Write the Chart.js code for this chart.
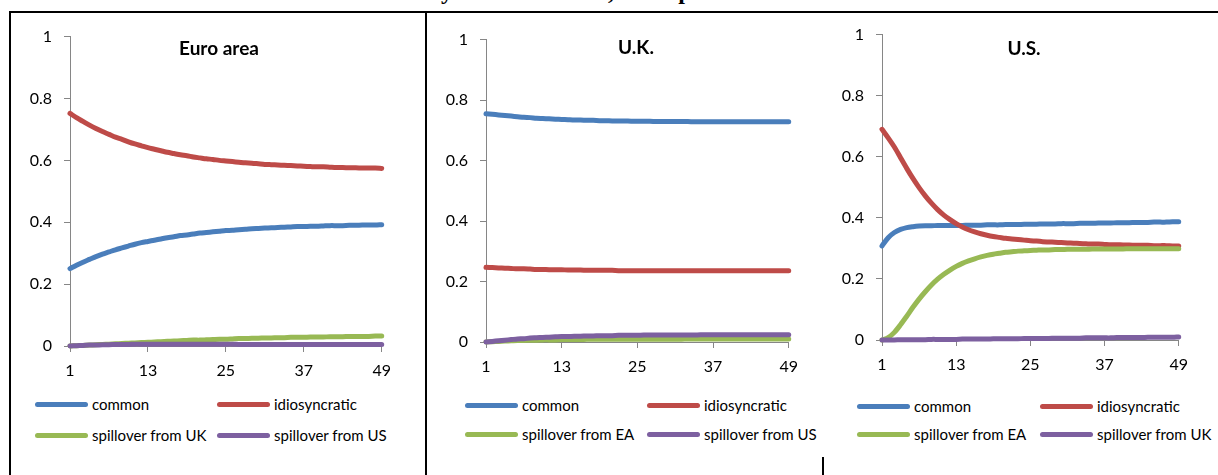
<!DOCTYPE html>
<html>
<head>
<meta charset="utf-8">
<script src="https://cdn.jsdelivr.net/npm/chart.js@4/dist/chart.umd.min.js"></script>
<style>
  html, body { margin: 0; padding: 0; background: #fff; }
  body { width: 1218px; height: 475px; position: relative; overflow: hidden; font-family: Lato, "Open Sans", sans-serif; }
  .abs { position: absolute; }
  .rule { position: absolute; background: #000; }
  .caption { position: absolute; left: 28px; top: -21px; font: bold 24px/24px "Liberation Serif", "DejaVu Serif", serif; letter-spacing: 0.6px; white-space: nowrap; color: #000; }
  .ptitle { position: absolute; width: 200px; text-align: center; font: bold 19px/22px Lato, sans-serif; color: #000; }
  .lg-line { position: absolute; width: 53px; height: 5px; border-radius: 3px; }
  .lg-text { position: absolute; font: 15px/16px Lato, sans-serif; color: #000; white-space: nowrap; }
</style>
</head>
<body>
<div class="caption">Contribution of the common and idiosyncratic shocks, and spillovers from the other two economies</div>
<div class="rule" style="left:9px;top:11px;width:1209px;height:2px"></div>
<div class="rule" style="left:9px;top:11px;width:2px;height:464px"></div>
<div class="rule" style="left:425px;top:11px;width:2px;height:464px"></div>
<div class="rule" style="left:822px;top:457px;width:2px;height:18px"></div>

<canvas id="chartEA" class="abs"></canvas>
<canvas id="chartUK" class="abs"></canvas>
<canvas id="chartUS" class="abs"></canvas>

<script>
'use strict';

// horizon (quarters)
const periods = [1, 2, 3, 4, 5, 6, 7, 8, 9, 10, 11, 12, 13, 14, 15, 16, 17, 18, 19, 20,
  21, 22, 23, 24, 25, 26, 27, 28, 29, 30, 31, 32, 33, 34, 35, 36, 37, 38, 39, 40,
  41, 42, 43, 44, 45, 46, 47, 48, 49];
const yTicks = [0, 0.2, 0.4, 0.6, 0.8, 1];
const xTicks = [1, 13, 25, 37, 49];

// Euro area
const eaCommon = [0.250, 0.261, 0.271, 0.280, 0.289, 0.297, 0.304, 0.311, 0.317, 0.323,
  0.329, 0.334, 0.338, 0.342, 0.346, 0.350, 0.353, 0.357, 0.359, 0.362,
  0.365, 0.367, 0.369, 0.371, 0.373, 0.374, 0.376, 0.377, 0.379, 0.380,
  0.381, 0.382, 0.383, 0.384, 0.385, 0.386, 0.386, 0.387, 0.387, 0.388,
  0.389, 0.389, 0.389, 0.390, 0.390, 0.391, 0.391, 0.391, 0.392];
const eaIdio = [0.752, 0.738, 0.726, 0.714, 0.703, 0.693, 0.684, 0.675, 0.668, 0.660,
  0.653, 0.647, 0.641, 0.636, 0.631, 0.626, 0.622, 0.618, 0.615, 0.611,
  0.608, 0.605, 0.603, 0.600, 0.598, 0.596, 0.594, 0.592, 0.591, 0.589,
  0.587, 0.586, 0.585, 0.584, 0.583, 0.582, 0.581, 0.580, 0.579, 0.579,
  0.578, 0.577, 0.577, 0.576, 0.576, 0.575, 0.575, 0.575, 0.574];
const eaFromUK = [0.000, 0.001, 0.002, 0.003, 0.004, 0.005, 0.006, 0.007, 0.008, 0.009,
  0.010, 0.011, 0.012, 0.013, 0.014, 0.015, 0.016, 0.017, 0.018, 0.019,
  0.019, 0.020, 0.021, 0.022, 0.022, 0.023, 0.024, 0.024, 0.025, 0.025,
  0.026, 0.026, 0.027, 0.027, 0.028, 0.028, 0.028, 0.029, 0.029, 0.029,
  0.030, 0.030, 0.030, 0.031, 0.031, 0.031, 0.031, 0.032, 0.032];
const eaFromUS = [0.000, 0.001, 0.002, 0.003, 0.003, 0.004, 0.004, 0.005, 0.005, 0.005,
  0.006, 0.006, 0.006, 0.006, 0.006, 0.006, 0.006, 0.006, 0.006, 0.006,
  0.006, 0.006, 0.006, 0.006, 0.006, 0.006, 0.005, 0.005, 0.005, 0.005,
  0.005, 0.005, 0.005, 0.005, 0.005, 0.005, 0.005, 0.005, 0.005, 0.005,
  0.005, 0.005, 0.005, 0.005, 0.005, 0.005, 0.005, 0.005, 0.005];

// U.K.
const ukCommon = [0.755, 0.753, 0.751, 0.749, 0.747, 0.745, 0.743, 0.742, 0.740, 0.739,
  0.738, 0.737, 0.736, 0.735, 0.734, 0.734, 0.733, 0.733, 0.732, 0.732,
  0.731, 0.731, 0.731, 0.730, 0.730, 0.730, 0.730, 0.729, 0.729, 0.729,
  0.729, 0.729, 0.729, 0.728, 0.728, 0.728, 0.728, 0.728, 0.728, 0.728,
  0.728, 0.728, 0.728, 0.728, 0.728, 0.728, 0.728, 0.728, 0.728];
const ukIdio = [0.247, 0.246, 0.245, 0.244, 0.243, 0.242, 0.242, 0.241, 0.240, 0.240,
  0.239, 0.239, 0.239, 0.238, 0.238, 0.238, 0.237, 0.237, 0.237, 0.237,
  0.237, 0.236, 0.236, 0.236, 0.236, 0.236, 0.236, 0.236, 0.236, 0.236,
  0.236, 0.236, 0.236, 0.236, 0.236, 0.236, 0.236, 0.236, 0.236, 0.236,
  0.236, 0.236, 0.236, 0.236, 0.236, 0.236, 0.236, 0.236, 0.236];
const ukFromEA = [0.000, 0.001, 0.002, 0.003, 0.004, 0.005, 0.005, 0.006, 0.006, 0.007,
  0.007, 0.007, 0.008, 0.008, 0.008, 0.008, 0.009, 0.009, 0.009, 0.009,
  0.009, 0.009, 0.009, 0.009, 0.009, 0.009, 0.009, 0.009, 0.009, 0.009,
  0.009, 0.009, 0.010, 0.010, 0.010, 0.010, 0.010, 0.010, 0.010, 0.010,
  0.010, 0.010, 0.010, 0.010, 0.010, 0.010, 0.010, 0.010, 0.010];
const ukFromUS = [0.000, 0.002, 0.004, 0.006, 0.008, 0.010, 0.011, 0.013, 0.014, 0.015,
  0.016, 0.017, 0.018, 0.018, 0.019, 0.019, 0.020, 0.020, 0.021, 0.021,
  0.021, 0.022, 0.022, 0.022, 0.022, 0.023, 0.023, 0.023, 0.023, 0.023,
  0.023, 0.023, 0.023, 0.023, 0.024, 0.024, 0.024, 0.024, 0.024, 0.024,
  0.024, 0.024, 0.024, 0.024, 0.024, 0.024, 0.024, 0.024, 0.024];

// U.S.
const usCommon = [0.308, 0.335, 0.352, 0.362, 0.368, 0.371, 0.373, 0.374, 0.374, 0.375,
  0.375, 0.375, 0.375, 0.375, 0.376, 0.376, 0.376, 0.377, 0.377, 0.377,
  0.378, 0.378, 0.378, 0.379, 0.379, 0.379, 0.380, 0.380, 0.380, 0.381,
  0.381, 0.381, 0.382, 0.382, 0.382, 0.383, 0.383, 0.383, 0.384, 0.384,
  0.384, 0.385, 0.385, 0.385, 0.386, 0.386, 0.386, 0.387, 0.387];
const usIdio = [0.690, 0.662, 0.632, 0.597, 0.562, 0.529, 0.499, 0.472, 0.448, 0.427,
  0.409, 0.394, 0.381, 0.370, 0.361, 0.354, 0.348, 0.343, 0.339, 0.336,
  0.333, 0.331, 0.329, 0.327, 0.325, 0.324, 0.322, 0.321, 0.320, 0.319,
  0.318, 0.317, 0.316, 0.315, 0.314, 0.314, 0.313, 0.312, 0.312, 0.311,
  0.311, 0.310, 0.310, 0.310, 0.309, 0.309, 0.309, 0.308, 0.308];
const usFromEA = [0.000, 0.008, 0.025, 0.050, 0.078, 0.107, 0.134, 0.158, 0.180, 0.199,
  0.215, 0.229, 0.241, 0.251, 0.259, 0.266, 0.272, 0.277, 0.281, 0.284,
  0.287, 0.289, 0.291, 0.292, 0.293, 0.294, 0.295, 0.295, 0.296, 0.296,
  0.297, 0.297, 0.297, 0.297, 0.298, 0.298, 0.298, 0.298, 0.298, 0.298,
  0.299, 0.299, 0.299, 0.299, 0.299, 0.299, 0.299, 0.299, 0.299];
const usFromUK = [0.000, 0.000, 0.000, 0.001, 0.001, 0.001, 0.001, 0.001, 0.002, 0.002,
  0.002, 0.002, 0.002, 0.003, 0.003, 0.003, 0.003, 0.003, 0.004, 0.004,
  0.004, 0.004, 0.004, 0.005, 0.005, 0.005, 0.005, 0.005, 0.006, 0.006,
  0.006, 0.006, 0.006, 0.007, 0.007, 0.007, 0.007, 0.007, 0.008, 0.008,
  0.008, 0.008, 0.008, 0.009, 0.009, 0.009, 0.009, 0.009, 0.010];

const colors = ['#4a7ebb', '#be4b48', '#98b954', '#7d60a0'];

// panel layout: plot area edges, title centre, legend columns / rows
const panels = [
  { id: 'chartEA', title: 'Euro area', area: [70, 27, 388, 346], titleAt: [219, 48],
    legX: [35, 217], legY: [404, 435],
    series: [['common', eaCommon], ['idiosyncratic', eaIdio], ['spillover from UK', eaFromUK], ['spillover from US', eaFromUS]] },
  { id: 'chartUK', title: 'U.K.', area: [486, 30, 795, 342], titleAt: [636, 47],
    legX: [465, 647], legY: [405, 434],
    series: [['common', ukCommon], ['idiosyncratic', ukIdio], ['spillover from EA', ukFromEA], ['spillover from US', ukFromUS]] },
  { id: 'chartUS', title: 'U.S.', area: [882, 25, 1185, 340], titleAt: [1024, 48],
    legX: [857, 1040], legY: [406, 434],
    series: [['common', usCommon], ['idiosyncratic', usIdio], ['spillover from EA', usFromEA], ['spillover from UK', usFromUK]] }
];

const tickFont = { family: 'Lato, sans-serif', size: 16 };
const axisGrey = '#868686';

function addDiv(cls, text, style) {
  var d = document.createElement('div');
  d.className = cls;
  if (text) d.textContent = text;
  Object.assign(d.style, style);
  document.body.appendChild(d);
  return d;
}

function drawPanel(p) {
  const [L, T, R, B] = p.area;
  const canvas = document.getElementById(p.id);
  canvas.width = R - L + 72;
  canvas.height = B - T + 52;
  canvas.style.left = (L - 60) + 'px';
  canvas.style.top = (T - 12) + 'px';

  const datasets = p.series.map(function (s, i) {
    return {
      label: s[0],
      data: s[1],
      borderColor: colors[i],
      backgroundColor: colors[i],
      borderWidth: 5,
      borderCapStyle: 'round',
      borderJoinStyle: 'round',
      pointRadius: 0,
      tension: 0.3,
      clip: false,
      order: 4 - i
    };
  });

  const chart = new Chart(canvas, {
    type: 'line',
    data: { labels: periods, datasets: datasets },
    options: {
      responsive: false,
      animation: false,
      devicePixelRatio: 1,
      layout: { padding: { top: 12, right: 12, left: 0, bottom: 0 } },
      plugins: { legend: { display: false }, tooltip: { enabled: false } },
      scales: {
        x: {
          type: 'linear',
          min: 1, max: 49,
          afterFit: function (scale) { scale.height = 40; },
          afterBuildTicks: function (scale) { scale.ticks = xTicks.map(function (v) { return { value: v }; }); },
          ticks: { font: tickFont, color: '#000', padding: 9, maxRotation: 0, autoSkip: false },
          grid: { drawOnChartArea: false, drawTicks: true, tickLength: 6, color: axisGrey },
          border: { display: true, color: axisGrey, width: 1 }
        },
        y: {
          min: 0, max: 1,
          afterFit: function (scale) { scale.width = 60; },
          afterBuildTicks: function (scale) { scale.ticks = yTicks.map(function (v) { return { value: v }; }); },
          ticks: {
            font: tickFont, color: '#000', padding: 12,
            callback: function (v) { return String(Number(v.toFixed(1))); }
          },
          grid: { drawOnChartArea: false, drawTicks: true, tickLength: 6, color: axisGrey },
          border: { display: true, color: axisGrey, width: 1 }
        }
      }
    }
  });

  addDiv('ptitle', p.title, { left: (p.titleAt[0] - 100) + 'px', top: (p.titleAt[1] - 11) + 'px' });

  // legend in two columns, built from the chart's datasets
  chart.data.datasets.forEach(function (ds, i) {
    const x = p.legX[i % 2];
    const y = p.legY[Math.floor(i / 2)];
    addDiv('lg-line', '', { left: x + 'px', top: (y - 2.5) + 'px', background: ds.borderColor });
    addDiv('lg-text', ds.label, { left: (x + 57) + 'px', top: (y - 8) + 'px' });
  });
}

panels.forEach(drawPanel);
</script>
</body>
</html>
